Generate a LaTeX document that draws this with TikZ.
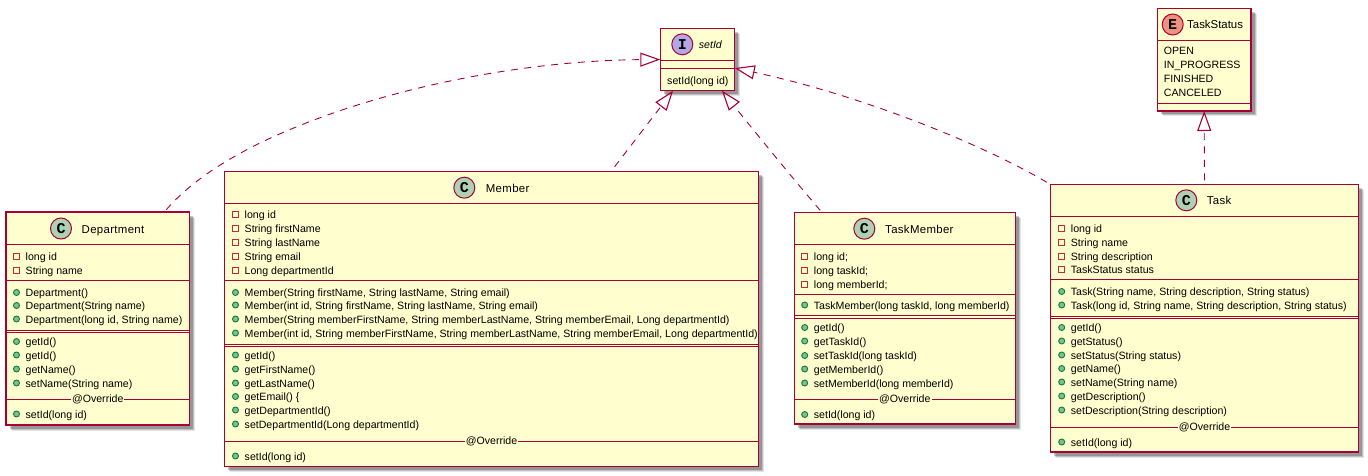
\documentclass[tikz,border=0pt]{standalone}
\usepackage{fontspec}
\usetikzlibrary{positioning,calc,shadows,arrows.meta}
\setmainfont{Liberation Sans}
\newfontfamily\spotfont{Liberation Mono}
\newfontfamily\titlefont[LetterSpace=3]{Liberation Sans}

\definecolor{umlborder}{HTML}{A80036}
\definecolor{umlfill}{HTML}{FEFECE}
\definecolor{spotclass}{HTML}{ADD1B2}
\definecolor{spotiface}{HTML}{B4A7E5}
\definecolor{spotenum}{HTML}{EB937F}
\definecolor{privred}{HTML}{C82930}
\definecolor{pubfill}{HTML}{84BE84}
\definecolor{pubdraw}{HTML}{038048}

\tikzset{
	classbox/.style={rectangle,draw=umlborder,line width=1.5pt,fill=umlfill,inner sep=0pt,outer sep=0pt,anchor=north west,
		general shadow={shadow xshift=5.5pt,shadow yshift=-5.5pt,fill=black,opacity=.10},
		general shadow={shadow xshift=4.5pt,shadow yshift=-4.5pt,fill=black,opacity=.16},
		general shadow={shadow xshift=3.5pt,shadow yshift=-3.5pt,fill=black,opacity=.22}},
	sepline/.style={draw=umlborder,line width=1pt},
	spot/.style={circle,draw=umlborder,line width=1pt,minimum size=21pt,inner sep=0pt,font=\spotfont\bfseries\fontsize{15}{15}\selectfont},
	classtitle/.style={anchor=base west,inner sep=0pt,font=\titlefont\fontsize{11.4}{13}\selectfont},
	rowtext/.style={anchor=base west,inner sep=0pt,font=\fontsize{10.6}{12}\selectfont},
	privicon/.style={rectangle,draw=privred,line width=.9pt,minimum size=6pt,inner sep=0pt},
	pubicon/.style={circle,draw=pubdraw,fill=pubfill,line width=.9pt,minimum size=6pt,inner sep=0pt},
	overridelabel/.style={fill=umlfill,inner sep=1pt,font=\fontsize{10.6}{12}\selectfont},
	realize/.style={draw=umlborder,line width=.9pt,dash pattern=on 7pt off 6.5pt,
		-{Triangle[open,length=20pt,width=14pt,line width=1.1pt]}}
}

% hàng thuộc tính / phương thức: tên lớp, x của chữ, danh sách y/chữ
\newcommand{\privrows}[3]{
	\foreach [count=\k] \y/\txt in {#3} {
		\node[privicon] (#1-pi\k) at (#2-9,\y) {};
		\node[rowtext] (#1-pt\k) at (#2,\y+4) {\txt};
	}
}
\newcommand{\pubrows}[3]{
	\foreach [count=\k] \y/\txt in {#3} {
		\node[pubicon] (#1-mi\k) at (#2-9,\y) {};
		\node[rowtext] (#1-mt\k) at (#2,\y+4) {\txt};
	}
}
\newcommand{\plainrows}[3]{
	\foreach [count=\k] \y/\txt in {#3} {
		\node[rowtext] (#1-rt\k) at (#2,\y+4) {\txt};
	}
}
\newcommand{\seplines}[2]{
	\foreach \y in {#2} { \draw[sepline] (#1.west |- 0,\y) -- (#1.east |- 0,\y); }
}
\newcommand{\overrideline}[3]{
	\draw[sepline] (#1.west |- 0,#2) -- (#1.east |- 0,#2);
	\node[overridelabel] (#1-override) at (#1.center |- 0,#2+.5) {@Override};
}

\begin{document}
\begin{tikzpicture}[x=1pt,y=-1pt]
	\useasboundingbox (0,0) rectangle (1368,476);
	
	% các lớp
	\node[classbox,minimum width=183.5pt,minimum height=213pt] (department) at (6,212) {};
	\node[classbox,minimum width=534pt,minimum height=295pt] (member) at (224.5,171.5) {};
	\node[classbox,minimum width=221pt,minimum height=211.5pt] (taskmember) at (794.3,212.7) {};
	\node[classbox,minimum width=308.4pt,minimum height=267.7pt] (task) at (1050.3,184.3) {};
	\node[classbox,minimum width=74.4pt,minimum height=62.4pt] (setid) at (660.3,28.3) {};
	\node[classbox,minimum width=93.7pt,minimum height=102.3pt] (taskstatus) at (1157.3,8.7) {};
	
	% Department
	\node[spot,fill=spotclass] (department-spot) at (61,228.5) {C};
	\node[classtitle] (department-title) at (81.5,233) {Department};
	\seplines{department}{244,280,330,332.5}
	\overrideline{department}{399}{}
	\privrows{department}{25.5}{256.5/long id,270/String name}
	\pubrows{department}{25.5}{292.5/Department(),305.5/Department(String name),319/{Department(long id, String name)},341.5/getId(),355/getId(),369/getName(),383/setName(String name),414/setId(long id)}
	
	% Member
	\node[spot,fill=spotclass] (member-spot) at (464.3,187.7) {C};
	\node[classtitle] (member-title) at (485.7,192) {Member};
	\seplines{member}{203.5,280.5,344,346.5}
	\overrideline{member}{441}{}
	\privrows{member}{244.5}{214.5/long id,228/String firstName,242/String lastName,256/String email,270/Long departmentId}
	\pubrows{member}{244.5}{292.5/{Member(String firstName, String lastName, String email)},305/{Member(int id, String firstName, String lastName, String email)},319/{Member(String memberFirstName, String memberLastName, String memberEmail, Long departmentId)},333/{Member(int id, String memberFirstName, String memberLastName, String memberEmail, Long departmentId)},355/getId(),369/getFirstName(),383/getLastName(),396.5/getEmail() \{,410/getDepartmentId(),424/setDepartmentId(Long departmentId),456/setId(long id)}
	
	% TaskMember
	\node[spot,fill=spotclass] (taskmember-spot) at (864.3,228.7) {C};
	\node[classtitle] (taskmember-title) at (885,233) {TaskMember};
	\seplines{taskmember}{244,294.7,315.7,318}
	\overrideline{taskmember}{399.3}{}
	\privrows{taskmember}{813.7}{256/long id;,270/long taskId;,284/long memberId;}
	\pubrows{taskmember}{813.7}{305/{TaskMember(long taskId, long memberId)},327.5/getId(),341/getTaskId(),355.5/setTaskId(long taskId),369/getMemberId(),383/setMemberId(long memberId),414.5/setId(long id)}
	
	% Task
	\node[spot,fill=spotclass] (task-spot) at (1186.3,200.3) {C};
	\node[classtitle] (task-title) at (1206.7,204.5) {Task};
	\seplines{task}{216.7,279.7,316,318.5}
	\overrideline{task}{427.3}{}
	\privrows{task}{1070.7}{228.5/long id,242.5/String name,256.5/String description,269.5/TaskStatus status}
	\pubrows{task}{1070.7}{291.5/{Task(String name, String description, String status)},305/{Task(long id, String name, String description, String status)},327.5/getId(),341/getStatus(),355/setStatus(String status),368.5/getName(),382/setName(String name),396/getDescription(),410/setDescription(String description),442/setId(long id)}
	
	% setId
	\node[spot,fill=spotiface] (setid-spot) at (682.3,44.3) {I};
	\node[classtitle,font=\itshape\fontsize{10.6}{13}\selectfont] (setid-title) at (698.7,48.5) {setId};
	\seplines{setid}{60.3,68.3}
	\plainrows{setid}{667}{80.7/setId(long id)}
	
	% TaskStatus
	\node[spot,fill=spotenum] (taskstatus-spot) at (1172.7,24.5) {E};
	\node[classtitle,font=\fontsize{11.4}{13}\selectfont] (taskstatus-title) at (1187,29) {TaskStatus};
	\seplines{taskstatus}{40.7,103.7}
	\plainrows{taskstatus}{1163.7}{51/OPEN,65/IN\_PROGRESS,79/FINISHED,93/CANCELED}
	
	% quan hệ hiện thực
	\draw[realize,shorten <=3pt] (department.58.5) .. controls (185,188) and (215,165) .. (260,143) .. controls (370,90) and (520,60.5) .. (setid.west);
	\draw[realize,shorten <=6pt] (member.51.5) -- (setid.232);
	\draw[realize,shorten <=3pt] (taskmember.128.8) .. controls (790,175) and (755,132) .. (setid.308);
	\draw[realize,shorten <=4pt] (task.north west) .. controls (980,143) and (860,95) .. (setid.347);
	\draw[realize,shorten <=4pt] (task.north) -- (taskstatus.south);
\end{tikzpicture}
\end{document}
